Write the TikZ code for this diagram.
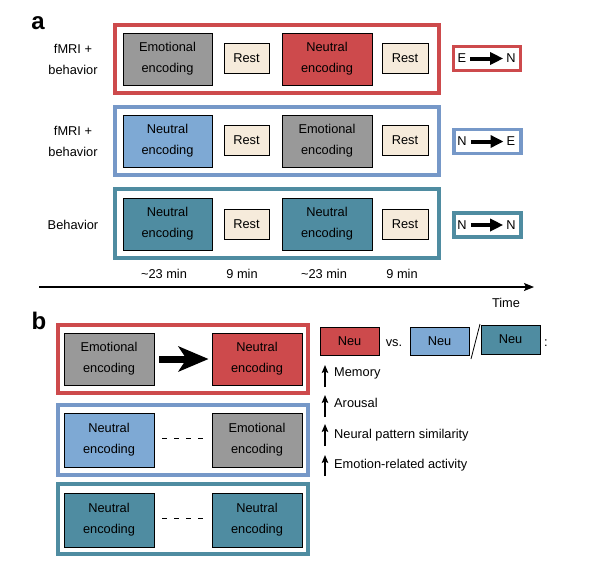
\documentclass[tikz,border=0pt]{standalone}
\usepackage{fontspec}
\setmainfont{Liberation Sans}
\usetikzlibrary{arrows.meta}
\definecolor{cred}{HTML}{CD4A4C}
\definecolor{cgray}{HTML}{999999}
\definecolor{cblue}{HTML}{7EA9D4}
\definecolor{cblueframe}{HTML}{7698C8}
\definecolor{cteal}{HTML}{4F8CA1}
\definecolor{crest}{HTML}{F6EBDB}
\begin{document}
\begin{tikzpicture}[x=1pt,y=-1pt,
  font=\fontsize{12.8}{21}\selectfont,
  frame/.style={draw=#1, line width=4pt, inner sep=0pt, minimum height=68pt},
  lframe/.style={draw=#1, line width=3.4pt, inner sep=0pt, minimum width=67pt, minimum height=24pt},
  enc/.style={draw=black, line width=0.9pt, fill=#1, align=center, inner sep=0pt, minimum width=89pt, minimum height=52pt},
  restbox/.style={draw=black, line width=0.9pt, fill=crest, inner sep=0pt, minimum width=45pt, minimum height=30pt},
  neubox/.style={draw=black, line width=0.9pt, fill=#1, inner sep=0pt, minimum width=59pt, minimum height=28pt},
  lbl/.style={align=center, inner sep=0pt},
  letter/.style={font=\fontsize{24}{28}\selectfont\bfseries, inner sep=0pt},
  smallarrow/.style={line width=4pt, -{Triangle[length=13pt,width=12pt]}},
  uparrow/.style={line width=1.2pt, -{Stealth[length=8pt,width=6.5pt,inset=1.5pt]}},
  dashline/.style={line width=1pt, dash pattern=on 5pt off 7pt}
]
\useasboundingbox (0,0) rectangle (604,566);

% ---------- panel a ----------
\node[letter] (la) at (38,23) {a};

% row 1
\node[frame=cred, minimum width=324pt] (f1) at (277,59) {};
\node[lbl] (t1) at (73,59) {fMRI +\\behavior};
\node[enc=cgray] (e1a) at (167.5,59) {Emotional\\encoding};
\node[restbox] (r1a) at (246.5,58) {Rest};
\node[enc=cred, minimum width=90pt] (e1b) at (327,59) {Neutral\\encoding};
\node[restbox, minimum width=46pt] (r1b) at (405,58) {Rest};
\node[lframe=cred] (l1) at (487,58.5) {};
\node[inner sep=0pt] (l1E) at (462,58.5) {E};
\node[inner sep=0pt] (l1N) at (511,58.5) {N};
\draw[smallarrow, shorten <=4pt, shorten >=3pt] (l1E) -- (l1N);

% row 2
\node[frame=cblueframe, minimum width=324pt] (f2) at (277,141) {};
\node[lbl] (t2) at (73,141) {fMRI +\\behavior};
\node[enc=cblue] (e2a) at (167.5,141) {Neutral\\encoding};
\node[restbox] (r2a) at (246.5,140) {Rest};
\node[enc=cgray, minimum width=90pt] (e2b) at (327,141) {Emotional\\encoding};
\node[restbox, minimum width=46pt] (r2b) at (405,140) {Rest};
\node[lframe=cblueframe] (l2) at (487.5,141.5) {};
\node[inner sep=0pt] (l2E) at (462,141.5) {N};
\node[inner sep=0pt] (l2N) at (511,141.5) {E};
\draw[smallarrow, shorten <=4pt, shorten >=3pt] (l2E) -- (l2N);

% row 3
\node[frame=cteal, minimum width=324pt, minimum height=69pt] (f3) at (277,223.5) {};
\node[lbl] (t3) at (73,225) {Behavior};
\node[enc=cteal] (e3a) at (167.5,224) {Neutral\\encoding};
\node[restbox] (r3a) at (246.5,224) {Rest};
\node[enc=cteal, minimum width=90pt] (e3b) at (327,224) {Neutral\\encoding};
\node[restbox, minimum width=46pt] (r3b) at (405,224) {Rest};
\node[lframe=cteal] (l3) at (487.5,225) {};
\node[inner sep=0pt] (l3E) at (462,225) {N};
\node[inner sep=0pt] (l3N) at (511,225) {N};
\draw[smallarrow, shorten <=4pt, shorten >=3pt] (l3E) -- (l3N);

% durations
\node[lbl] (d1) at (164,274) {\textasciitilde23 min};
\node[lbl] (d2) at (242,274) {9 min};
\node[lbl] (d3) at (324,274) {\textasciitilde23 min};
\node[lbl] (d4) at (402,274) {9 min};

% time axis
\coordinate (ta) at (39,287);
\coordinate (tb) at (534,287);
\draw[line width=1.1pt, -{Stealth[length=10pt,width=8pt,inset=2pt]}] (ta) -- (tb);
\node[lbl] (time) at (506,303) {Time};

% ---------- panel b ----------
\node[letter] (lb) at (39,321) {b};

\node[frame=cred, minimum width=250pt] (g1) at (183,359) {};
\node[enc=cgray, minimum width=90pt] (b1a) at (109,359) {Emotional\\encoding};
\node[enc=cred, minimum width=90pt] (b1b) at (257,359) {Neutral\\encoding};
\draw[line width=7pt, -{Stealth[length=30pt,width=25pt,inset=8pt]}, shorten <=5pt, shorten >=3pt] (b1a) -- (b1b);

\node[frame=cblueframe, minimum width=250pt, minimum height=70pt] (g2) at (183,440) {};
\node[enc=cblue, minimum width=90pt, minimum height=54pt] (b2a) at (109,440) {Neutral\\encoding};
\node[enc=cgray, minimum width=90pt, minimum height=54pt] (b2b) at (257,440) {Emotional\\encoding};
\draw[dashline, shorten <=8pt, shorten >=9pt] (b2a.east |- 0,438) -- (b2b.west |- 0,438);

\node[frame=cteal, minimum width=250pt, minimum height=70pt] (g3) at (183,519) {};
\node[enc=cteal, minimum width=90pt, minimum height=54pt] (b3a) at (109,520) {Neutral\\encoding};
\node[enc=cteal, minimum width=90pt, minimum height=54pt] (b3b) at (257,520) {Neutral\\encoding};
\draw[dashline, shorten <=8pt, shorten >=9pt] (b3a.east |- 0,518) -- (b3b.west |- 0,518);

% legend
\node[neubox=cred] (n1) at (349.5,341) {Neu};
\node[lbl] (vs) at (394,343) {vs.};
\node[neubox=cblue] (n2) at (439.5,341) {Neu};
\coordinate (s0) at (471,359);
\coordinate (s1) at (480,324);
\draw[line width=0.8pt] (s0) -- (s1);
\node[neubox=cteal, minimum height=29pt] (n3) at (510.5,339.5) {Neu};
\node[lbl] (colon) at (546,343) {:};

\coordinate (a1s) at (325,387); \coordinate (a1e) at (325,365);
\draw[uparrow] (a1s) -- (a1e);
\node[lbl, anchor=west] (m1) at (334,373) {Memory};
\coordinate (a2s) at (325,417); \coordinate (a2e) at (325,395);
\draw[uparrow] (a2s) -- (a2e);
\node[lbl, anchor=west] (m2) at (334,403) {Arousal};
\coordinate (a3s) at (325,446); \coordinate (a3e) at (325,424);
\draw[uparrow] (a3s) -- (a3e);
\node[lbl, anchor=west] (m3) at (334,435) {Neural pattern similarity};
\coordinate (a4s) at (325,476); \coordinate (a4e) at (325,455);
\draw[uparrow] (a4s) -- (a4e);
\node[lbl, anchor=west] (m4) at (334,465) {Emotion-related activity};
\end{tikzpicture}
\end{document}
